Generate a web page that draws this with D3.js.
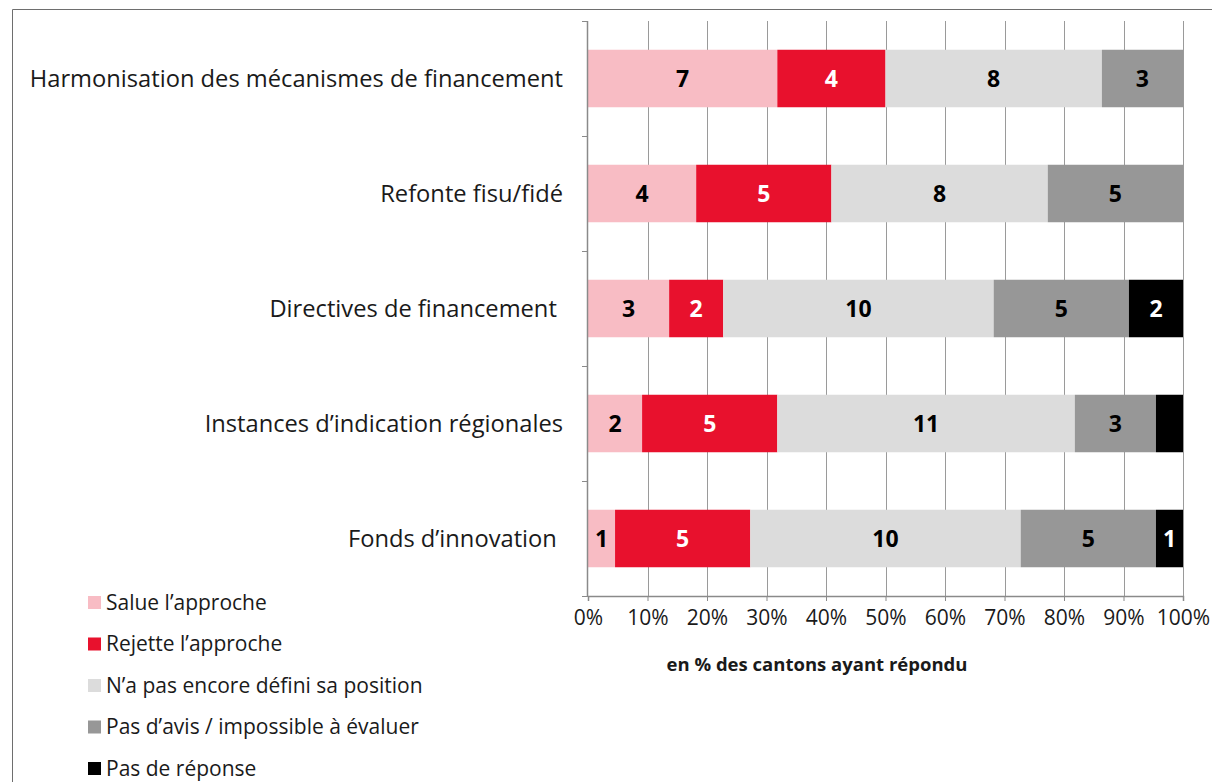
<!DOCTYPE html>
<html>
<head>
<meta charset="utf-8">
<script src="https://cdn.jsdelivr.net/npm/d3@7"></script>
<style>
  body { margin: 0; background: #fff; }
  text { font-family: "Open Sans", "Noto Sans", sans-serif; }
</style>
</head>
<body>
<div id="chart"></div>
<script>
// categories (trailing spaces kept as in the source chart)
var categories = [
  "Harmonisation des mécanismes de financement",
  "Refonte fisu/fidé",
  "Directives de financement\u00a0",
  "Instances d\u2019indication régionales",
  "Fonds d\u2019innovation\u00a0"
];

// series
var seriesNames = [
  "Salue l\u2019approche",
  "Rejette l\u2019approche",
  "N\u2019a pas encore défini sa position",
  "Pas d\u2019avis / impossible à évaluer",
  "Pas de réponse"
];
var salue     = [7, 4, 3, 2, 1];
var rejette   = [4, 5, 2, 5, 5];
var pasDefini = [8, 8, 10, 11, 10];
var pasAvis   = [3, 5, 5, 3, 5];
var pasRep    = [0, 0, 2, 1, 1];

// the label of the last segment in row 4 is not shown in the original
var hideLabel = [[3, 4]];

var tickValues = [0, 0.1, 0.2, 0.3, 0.4, 0.5, 0.6, 0.7, 0.8, 0.9, 1];
var axisTitle = "en % des cantons ayant répondu";

var colors = ["#f8bcc4", "#e8112d", "#dcdcdc", "#979797", "#000000"];
var labelColors = ["#000", "#fff", "#000", "#000", "#fff"];

var svgWidth = 1212, svgHeight = 782;
var margin = { top: 21, left: 588, right: 29, bottom: 186 };
var width = svgWidth - margin.left - margin.right;
var height = svgHeight - margin.top - margin.bottom;

var svg = d3.select("#chart").append("svg")
  .attr("width", svgWidth)
  .attr("height", svgHeight);

// outer frame (only top and left visible)
svg.append("path")
  .attr("d", "M12.5,782 V9.5 H1212")
  .attr("fill", "none")
  .attr("stroke", "#6e6e6e")
  .attr("stroke-width", 1);

var chartGroup = svg.append("g")
  .attr("transform", `translate(${margin.left}, ${margin.top})`);

// build table
var table = categories.map(function (c, i) {
  var vals = [salue[i], rejette[i], pasDefini[i], pasAvis[i], pasRep[i]];
  return { cat: c, vals: vals, total: d3.sum(vals) };
});

var xScale = d3.scaleLinear().domain([0, 1]).range([0, width]);
var yScale = d3.scaleBand().domain(categories).range([0, height]).paddingInner(0.5).paddingOuter(0.25);

// gridlines
chartGroup.append("g")
  .selectAll("line")
  .data(tickValues.slice(1))
  .enter()
  .append("line")
  .attr("x1", d => Math.round(xScale(d)) + 0.5)
  .attr("x2", d => Math.round(xScale(d)) + 0.5)
  .attr("y1", 0)
  .attr("y2", height)
  .attr("stroke", "#9a9a9a");

// bars
var rows = chartGroup.selectAll(".row")
  .data(table)
  .enter()
  .append("g")
  .attr("class", "row")
  .attr("transform", d => `translate(0, ${yScale(d.cat)})`);

rows.each(function (d, i) {
  var g = d3.select(this);
  var cum = 0;
  d.vals.forEach(function (v, j) {
    var x0 = cum / d.total, x1 = (cum + v) / d.total;
    cum += v;
    if (v === 0) return;
    g.append("rect")
      .attr("x", xScale(x0))
      .attr("width", xScale(x1) - xScale(x0))
      .attr("y", 0)
      .attr("height", yScale.bandwidth())
      .attr("fill", colors[j]);
    var hidden = hideLabel.some(h => h[0] === i && h[1] === j);
    if (!hidden) {
      g.append("text")
        .attr("x", (xScale(x0) + xScale(x1)) / 2)
        .attr("y", yScale.bandwidth() / 2)
        .attr("dy", "0.36em")
        .attr("text-anchor", "middle")
        .attr("font-size", 23)
        .attr("font-weight", "bold")
        .attr("fill", labelColors[j])
        .text(v);
    }
  });
});

// left axis
var yAxisBand = d3.scaleLinear().domain([0, categories.length]).range([0, height]);
var yAxis = chartGroup.append("g");
yAxis.append("line")
  .attr("x1", -0.5).attr("x2", -0.5)
  .attr("y1", 0).attr("y2", height)
  .attr("stroke", "#8a8a8a").attr("stroke-width", 1.5);
yAxis.selectAll(".tick")
  .data(d3.range(categories.length + 1))
  .enter()
  .append("line")
  .attr("x1", -6).attr("x2", 0)
  .attr("y1", d => Math.round(yAxisBand(d)) + 0.5)
  .attr("y2", d => Math.round(yAxisBand(d)) + 0.5)
  .attr("stroke", "#8a8a8a");

// category labels
chartGroup.selectAll(".cat")
  .data(categories)
  .enter()
  .append("text")
  .attr("class", "cat")
  .attr("x", -25)
  .attr("y", d => yScale(d) + yScale.bandwidth() / 2)
  .attr("dy", "0.36em")
  .attr("text-anchor", "end")
  .attr("font-size", 23.7)
  .attr("fill", "#1a1a1a")
  .style("white-space", "pre")
  .text(d => d);

// bottom axis
var xAxis = d3.axisBottom(xScale)
  .tickValues(tickValues)
  .tickFormat(d3.format(".0%"))
  .tickSize(5)
  .tickPadding(9);

var xAxisG = chartGroup.append("g")
  .attr("transform", `translate(0, ${height})`)
  .call(xAxis);
xAxisG.select(".domain").attr("stroke", "#8a8a8a").attr("stroke-width", 1.5);
xAxisG.selectAll(".tick line").attr("stroke", "#8a8a8a");
xAxisG.selectAll(".tick text")
  .attr("font-size", 21)
  .attr("fill", "#1a1a1a")
  .style("font-family", "'Open Sans', 'Noto Sans', sans-serif");

// axis title
chartGroup.append("text")
  .attr("x", 229)
  .attr("y", 671 - margin.top)
  .attr("text-anchor", "middle")
  .attr("font-size", 18.5)
  .attr("font-weight", "bold")
  .attr("fill", "#1a1a1a")
  .text(axisTitle);

// legend
var legend = svg.append("g")
  .attr("transform", "translate(88, 602)");
var legendItems = legend.selectAll(".item")
  .data(seriesNames)
  .enter()
  .append("g")
  .attr("class", "item")
  .attr("transform", (d, i) => `translate(0, ${i * 41.5})`);
legendItems.append("rect")
  .attr("x", 0).attr("y", -6)
  .attr("width", 13).attr("height", 13)
  .attr("fill", (d, i) => colors[i]);
legendItems.append("text")
  .attr("x", 18)
  .attr("y", 0)
  .attr("dy", "0.36em")
  .attr("font-size", 21)
  .attr("fill", "#1a1a1a")
  .text(d => d);
</script>
</body>
</html>
